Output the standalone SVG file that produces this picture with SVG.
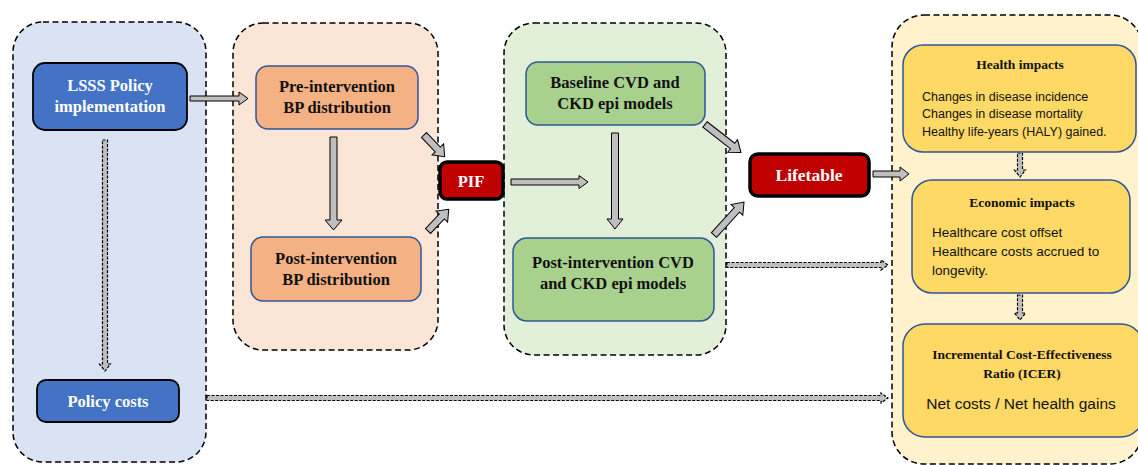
<svg xmlns="http://www.w3.org/2000/svg" width="1138" height="465" viewBox="0 0 1138 465">
<style>
.cont{stroke:#000;stroke-width:1.5;stroke-dasharray:6,3.5}
.blue{fill:#4472c4;stroke:#000;stroke-width:1.8}
.bt{font-family:"Liberation Serif",serif;font-weight:bold;font-size:16.5px;fill:#fff;text-anchor:middle}
.nt{font-family:"Liberation Serif",serif;font-weight:bold;font-size:16.5px;fill:#111;text-anchor:middle}
.ht{font-family:"Liberation Serif",serif;font-weight:bold;font-size:13.5px;fill:#111;text-anchor:middle}
.body{font-family:"Liberation Sans",Arial,sans-serif;font-size:12.5px;fill:#111}
.org{fill:#f4b183;stroke:#2f5597;stroke-width:1.5}
.grn{fill:#a9d18e;stroke:#2f5597;stroke-width:1.5}
.yel{fill:#ffd966;stroke:#2f5597;stroke-width:1.5}
.red{fill:#c00000;stroke:#000;stroke-width:3.5}
.ar{fill:#bfbfbf;stroke:#000;stroke-width:1}
.da{fill:#bfbfbf;stroke:#000;stroke-width:1.2;stroke-dasharray:3,1.5}
</style>
<g id="containers">
<rect x="13" y="22" width="193" height="440" rx="30" fill="#dae3f3" class="cont"/>
<rect x="233" y="23" width="205" height="327" rx="30" fill="#fbe5d6" class="cont"/>
<rect x="504" y="23" width="222" height="332" rx="30" fill="#e2f0d9" class="cont"/>
<rect x="892" y="15" width="250" height="449" rx="32" fill="#fff2cc" class="cont"/>
</g>
<g id="connectors">
<polygon class="ar" points="190,96 239,96 239,92 248,98.5 239,105 239,101 190,101"/>
<polygon class="ar" points="330,137 337,137 337,220 342,220 333.5,230 325,220 330,220"/>
<g transform="translate(424,135) rotate(46.3)"><polygon class="ar" points="0,-3.5 20,-3.5 20,-8 30,0 20,8 20,3.5 0,3.5"/></g>
<g transform="translate(428,231) rotate(-46.3)"><polygon class="ar" points="0,-3.5 20,-3.5 20,-8 30,0 20,8 20,3.5 0,3.5"/></g>
<polygon class="ar" points="511,179 579,179 579,175.5 588,182 579,188.5 579,185 511,185"/>
<polygon class="ar" points="611.5,133 618.5,133 618.5,219 623,219 615,229 607,219 611.5,219"/>
<g transform="translate(705,124.5) rotate(37.9)"><polygon class="ar" points="0,-3.5 35,-3.5 35,-8 45.6,0 35,8 35,3.5 0,3.5"/></g>
<g transform="translate(714,235) rotate(-47.7)"><polygon class="ar" points="0,-3.5 34,-3.5 34,-8 44.6,0 34,8 34,3.5 0,3.5"/></g>
<polygon class="ar" points="873,171 900,171 900,167 909,174 900,181 900,177 873,177"/>
<polygon class="da" points="102.5,140 107.5,140 107.5,364 110.5,364 105,371 99.5,364 102.5,364"/>
<polygon class="da" points="727,262.5 881,262.5 881,260 888,265 881,270 881,267.5 727,267.5"/>
<polygon class="da" points="207,395.5 881,395.5 881,393 888,398 881,403 881,400.5 207,400.5"/>
<polygon class="da" points="1017.5,153 1022.5,153 1022.5,170 1025.5,170 1020,177 1014.5,170 1017.5,170"/>
<polygon class="da" points="1017.5,295 1022.5,295 1022.5,313 1025.5,313 1020,320 1014.5,313 1017.5,313"/>
</g>
<g id="lsss">
<rect class="blue" x="33" y="63" width="154" height="67" rx="12"/>
<text class="bt" x="110" y="91">LSSS Policy</text>
<text class="bt" x="110" y="112">implementation</text>
</g>
<g id="policy-costs">
<rect class="blue" x="37" y="380" width="142" height="42" rx="9"/>
<text class="bt" x="108" y="407">Policy costs</text>
</g>
<g id="pre-bp">
<rect class="org" x="256" y="66" width="162" height="63" rx="12"/>
<text class="nt" x="337" y="92">Pre-intervention</text>
<text class="nt" x="337" y="113">BP distribution</text>
</g>
<g id="post-bp">
<rect class="org" x="251" y="237" width="170" height="64" rx="12"/>
<text class="nt" x="336" y="264">Post-intervention</text>
<text class="nt" x="336" y="285">BP distribution</text>
</g>
<g id="pif">
<rect class="red" x="440" y="162" width="63" height="37" rx="7"/>
<text class="bt" x="471" y="187">PIF</text>
</g>
<g id="baseline">
<rect class="grn" x="526" y="62" width="179" height="63" rx="12"/>
<text class="nt" x="615" y="88">Baseline CVD and</text>
<text class="nt" x="615" y="109">CKD epi models</text>
</g>
<g id="post-cvd">
<rect class="grn" x="513" y="238" width="201" height="83" rx="14"/>
<text class="nt" x="613" y="268">Post-intervention CVD</text>
<text class="nt" x="613" y="289">and CKD epi models</text>
</g>
<g id="lifetable">
<rect class="red" x="750" y="154" width="119" height="42" rx="8"/>
<text class="bt" x="809" y="181" style="font-size:17.5px">Lifetable</text>
</g>
<g id="health">
<rect class="yel" x="903" y="45" width="233" height="107" rx="20"/>
<text class="ht" x="1020" y="69">Health impacts</text>
<text class="body" x="922" y="101">Changes in disease incidence</text>
<text class="body" x="922" y="118">Changes in disease mortality</text>
<text class="body" x="922" y="136">Healthy life-years (HALY) gained.</text>
</g>
<g id="economic">
<rect class="yel" x="912" y="180" width="218" height="113" rx="20"/>
<text class="ht" x="1022" y="207">Economic impacts</text>
<text class="body" x="932" y="237" style="font-size:13.5px">Healthcare cost offset</text>
<text class="body" x="932" y="256" style="font-size:13.5px">Healthcare costs accrued to</text>
<text class="body" x="932" y="275" style="font-size:13.5px">longevity.</text>
</g>
<g id="icer">
<rect class="yel" x="903" y="324" width="240" height="113" rx="22"/>
<text class="ht" x="1022" y="359">Incremental Cost-Effectiveness</text>
<text class="ht" x="1022" y="378">Ratio (ICER)</text>
<text class="body" x="1021" y="409" style="font-size:15.5px;text-anchor:middle">Net costs / Net health gains</text>
</g>
</svg>
